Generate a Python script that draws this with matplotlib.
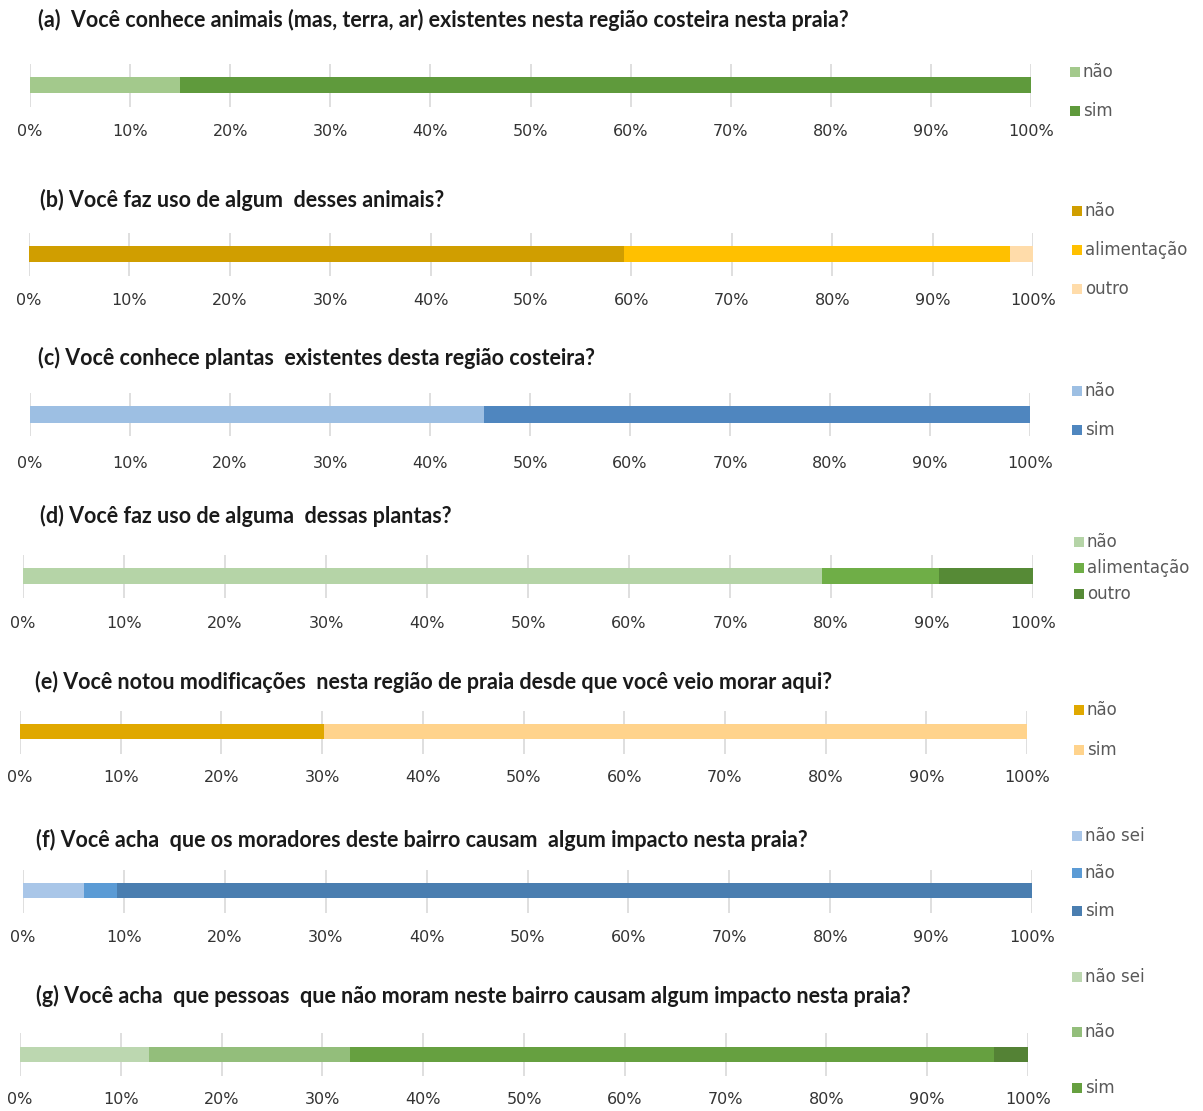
import matplotlib
matplotlib.use("Agg")
import matplotlib.pyplot as plt

# ---------------- data ----------------
tick_values = [0, 10, 20, 30, 40, 50, 60, 70, 80, 90, 100]
tick_labels = ["0%", "10%", "20%", "30%", "40%", "50%", "60%", "70%", "80%", "90%", "100%"]

titles = [
    "(a)  Você conhece animais (mas, terra, ar) existentes nesta região costeira nesta praia?",
    "(b) Você faz uso de algum  desses animais?",
    "(c) Você conhece plantas  existentes desta região costeira?",
    "(d) Você faz uso de alguma  dessas plantas?",
    "(e) Você notou modificações  nesta região de praia desde que você veio morar aqui?",
    "(f) Você acha  que os moradores deste bairro causam  algum impacto nesta praia?",
    "(g) Você acha  que pessoas  que não moram neste bairro causam algum impacto nesta praia?",
]

cats_a = ["não", "sim"]
vals_a = [15.0, 85.0]
cats_b = ["não", "alimentação", "outro"]
vals_b = [59.3, 38.4, 2.3]
cats_c = ["não", "sim"]
vals_c = [45.4, 54.6]
cats_d = ["não", "alimentação", "outro"]
vals_d = [79.1, 11.6, 9.3]
cats_e = ["não", "sim"]
vals_e = [30.2, 69.8]
cats_f = ["não sei", "não", "sim"]
vals_f = [6.0, 3.3, 90.7]
cats_g = ["não sei", "não", "sim", None]   # last segment has no legend entry
vals_g = [12.8, 19.9, 63.9, 3.4]

colors_a = ["#A3C98C", "#5F9A3C"]
colors_b = ["#D09E00", "#FFC000", "#FFDCAA"]
colors_c = ["#9DBFE3", "#4F86BF"]
colors_d = ["#B5D4A7", "#6FAE47", "#568A36"]
colors_e = ["#E0A800", "#FFD38C"]
colors_f = ["#A9C6E8", "#5B9BD5", "#4A7EB0"]
colors_g = ["#BCD7B0", "#93BE7B", "#66A040", "#548235"]

panels = [
    (cats_a, vals_a, colors_a),
    (cats_b, vals_b, colors_b),
    (cats_c, vals_c, colors_c),
    (cats_d, vals_d, colors_d),
    (cats_e, vals_e, colors_e),
    (cats_f, vals_f, colors_f),
    (cats_g, vals_g, colors_g),
]

# ---------------- layout (pixels, y from top) ----------------
W, H = 1203, 1111
# x0, x1, bar_top, bar_bot, grid_top, grid_bot, tick_y, title_x, title_y, legend_x, legend_ys
layout = [
    (30, 1031, 77, 93, 64, 107, 131, 38, 20, 1070, [72, 111]),
    (29, 1033, 246, 262, 233, 276, 301, 40, 200, 1072, [211, 250, 289]),
    (30, 1030, 406, 423, 393, 436, 464, 38, 358, 1072, [391, 430]),
    (23, 1033, 568, 584, 555, 598, 623, 40, 516, 1074, [542, 568, 594]),
    (20, 1027, 724, 739, 711, 754, 777, 35, 682, 1074, [710, 750]),
    (23, 1032, 883, 898, 870, 913, 937, 36, 840, 1072, [836, 873, 911]),
    (20, 1028, 1047, 1062, 1033, 1076, 1100, 36, 996, 1072, [977, 1032, 1088]),
]

fig = plt.figure(figsize=(W / 100, H / 100), dpi=100)
fig.patch.set_facecolor("white")

tick_font = dict(family=["DejaVu Sans"], size=11.5, color="#333333")
legend_color = "#595959"

for (cats, vals, cols), lay, title in zip(panels, layout, titles):
    x0, x1, bt, bb, gt, gb, ty, tx, tyy, lx, lys = lay
    ax = fig.add_axes([x0 / W, 1 - gb / H, (x1 - x0) / W, (gb - gt) / H])
    ax.set_xlim(0, 100)
    ax.set_ylim(gb, gt)
    left = 0
    handles = []
    for c, v, col in zip(cats, vals, cols):
        ax.barh((bt + bb) / 2, v, left=left, height=(bb - bt), color=col,
                edgecolor="none", zorder=3)
        left += v
        if c is not None:
            handles.append((c, col))
    ax.set_xticks(tick_values)
    ax.set_xticklabels([])
    ax.grid(axis="x", color="#D9D9D9", linewidth=1.2, zorder=0)
    ax.set_yticks([])
    ax.tick_params(axis="x", length=0)
    for s in ax.spines.values():
        s.set_visible(False)
    for tv, tl in zip(tick_values, tick_labels):
        xp = x0 + (x1 - x0) * tv / 100
        fig.text(xp / W, 1 - ty / H, tl, ha="center", va="center", **tick_font)
    fig.text(tx / W, 1 - tyy / H, title, ha="left", va="center",
             family=["Lato"], fontweight="bold", size=15.5, color="#1a1a1a")
    for (c, col), ly in zip(handles, lys):
        sq = 10
        fig.patches.append(plt.Rectangle((lx / W, 1 - (ly + sq / 2) / H), sq / W, sq / H,
                                         transform=fig.transFigure, facecolor=col,
                                         edgecolor="none"))
        fig.text((lx + sq + 3) / W, 1 - ly / H, c, ha="left", va="center",
                 family=["DejaVu Sans"], size=12, color=legend_color)

fig.savefig("out.png", dpi=100, facecolor="white")
